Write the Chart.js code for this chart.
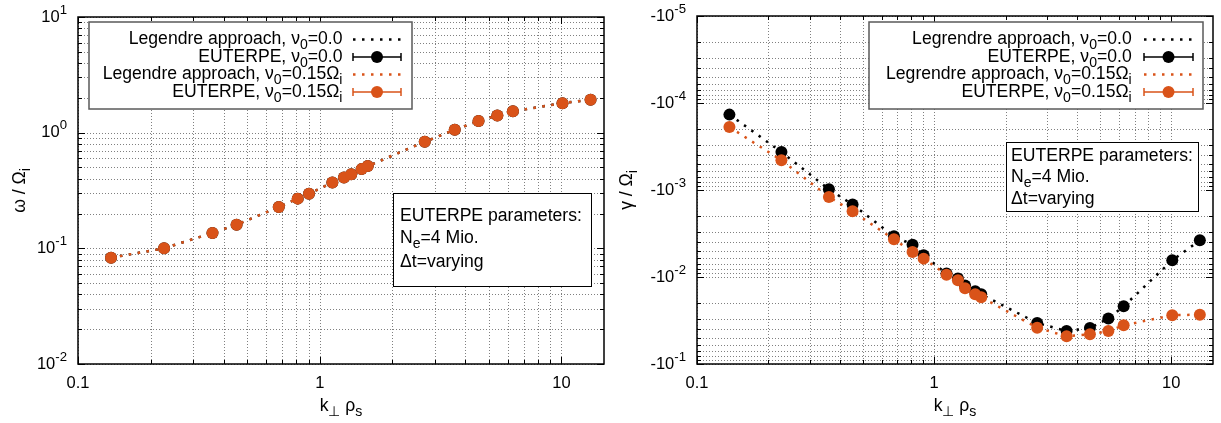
<!DOCTYPE html>
<html lang="en">
<head>
<meta charset="UTF-8">
<title>Real frequency and growth rate vs k_perp rho_s</title>
<script src="https://cdn.jsdelivr.net/npm/chart.js@4"></script>
<style>
  html, body { margin: 0; padding: 0; background: #fff; }
  #wrap { display: flex; width: 1221px; height: 423px; }
  canvas { display: block; }
</style>
</head>
<body>
<div id="wrap">
  <canvas id="omegaChart" width="610" height="423"></canvas>
  <canvas id="gammaChart" width="611" height="423"></canvas>
</div>
<script>
// k_perp * rho_s of the EUTERPE runs (same for both panels)
const kPerp = [0.137, 0.227, 0.360, 0.453, 0.677, 0.811, 0.903, 1.128, 1.26, 1.35,
               1.49, 1.58, 2.72, 3.62, 4.54, 5.43, 6.30, 10.1, 13.2];

// real frequency omega / Omega_i (nu0 = 0 and nu0 = 0.15 lie on top of each other)
const omegaNu0 = [0.083, 0.100, 0.136, 0.160, 0.228, 0.269, 0.297, 0.370, 0.409, 0.438,
                  0.484, 0.514, 0.834, 1.06, 1.26, 1.41, 1.53, 1.80, 1.93];
const omegaNu015 = [0.083, 0.100, 0.136, 0.160, 0.228, 0.269, 0.297, 0.370, 0.409, 0.438,
                    0.484, 0.514, 0.834, 1.06, 1.26, 1.41, 1.53, 1.80, 1.93];

// damping rate gamma / Omega_i (negative)
const gammaNu0 = [-1.36e-4, -3.66e-4, -9.8e-4, -1.47e-3, -3.40e-3, -4.25e-3, -5.63e-3, -9.14e-3,
                  -1.04e-2, -1.25e-2, -1.46e-2, -1.58e-2, -3.38e-2, -4.18e-2, -3.86e-2, -3.0e-2,
                  -2.17e-2, -6.43e-3, -3.78e-3];
const gammaNu015 = [-1.89e-4, -4.56e-4, -1.20e-3, -1.76e-3, -3.69e-3, -5.16e-3, -6.15e-3, -9.4e-3,
                    -1.09e-2, -1.35e-2, -1.58e-2, -1.71e-2, -3.82e-2, -4.81e-2, -4.56e-2, -4.18e-2,
                    -3.59e-2, -2.75e-2, -2.71e-2];

// axis ticks
const xTickValues = [0.1, 1, 10];
const xTickLabels = ['0.1', '1', '10'];
const omegaTickValues = [0.01, 0.1, 1, 10];
const omegaTickLabels = ['10^{-2}', '10^{-1}', '10^{0}', '10^{1}'];
const gammaTickValues = [1e-5, 1e-4, 1e-3, 1e-2, 1e-1];
const gammaTickLabels = ['-10^{-5}', '-10^{-4}', '-10^{-3}', '-10^{-2}', '-10^{-1}'];

const legendOmega = ['Legendre approach, ν_{0}=0.0', 'EUTERPE, ν_{0}=0.0',
                     'Legendre approach, ν_{0}=0.15Ω_{i}', 'EUTERPE, ν_{0}=0.15Ω_{i}'];
const legendGamma = ['Legrendre approach, ν_{0}=0.0', 'EUTERPE, ν_{0}=0.0',
                     'Legrendre approach, ν_{0}=0.15Ω_{i}', 'EUTERPE, ν_{0}=0.15Ω_{i}'];
const paramLines = ['EUTERPE parameters:', 'N_{e}=4 Mio.', 'Δt=varying'];

const ORANGE = '#d95319';
const BLACK = '#000000';
const FONT = '"Liberation Sans", Arial, Helvetica, sans-serif';
const TEXT_SIZE = 17.6;

// split "a^{b}c_{d}" into runs of normal / superscript / subscript text
function richParts(str) {
    const out = [];
    const re = /([\^_])\{([^}]*)\}/g;
    let last = 0, m;
    while ((m = re.exec(str))) {
        if (m.index > last) out.push({ t: str.slice(last, m.index), s: null });
        out.push({ t: m[2], s: m[1] === '^' ? 'sup' : 'sub' });
        last = re.lastIndex;
    }
    if (last < str.length) out.push({ t: str.slice(last), s: null });
    return out;
}

function drawRich(ctx, str, x, y, size, align) {
    const parts = richParts(str);
    const small = size * 0.8;
    let w = 0;
    parts.forEach(p => {
        ctx.font = (p.s ? small : size) + 'px ' + FONT;
        p.w = ctx.measureText(p.t).width;
        w += p.w;
    });
    let cx = align === 'right' ? x - w : align === 'center' ? x - w / 2 : x;
    ctx.textAlign = 'left';
    ctx.textBaseline = 'middle';
    parts.forEach(p => {
        ctx.font = (p.s ? small : size) + 'px ' + FONT;
        const dy = p.s === 'sup' ? -size * 0.42 : p.s === 'sub' ? size * 0.32 : 0;
        ctx.fillText(p.t, cx, y + dy);
        cx += p.w;
    });
}

// 1..9 x 10^n between lo and hi, for grid lines and minor ticks
function logSteps(lo, hi) {
    const vals = [];
    for (let e = Math.floor(Math.log10(lo)); e <= Math.ceil(Math.log10(hi)); e++) {
        for (let m = 1; m <= 9; m++) {
            const v = +(m * Math.pow(10, e)).toPrecision(3);
            if (v >= lo * 0.999 && v <= hi * 1.001) vals.push({ v, major: m === 1 });
        }
    }
    return vals;
}

function line(ctx, x0, y0, x1, y1) {
    ctx.beginPath();
    ctx.moveTo(x0, y0);
    ctx.lineTo(x1, y1);
    ctx.stroke();
}

// grid, frame, tick labels, titles, key and parameter box
function makeDecor(cfg) {
    return {
        id: 'decor',
        beforeDatasetsDraw(chart) {
            const { ctx, chartArea: a, scales: { x, y } } = chart;
            ctx.save();
            ctx.strokeStyle = '#808080';
            ctx.lineWidth = 1;
            ctx.setLineDash([1, 2]);
            logSteps(x.min, x.max).forEach(t => {
                const px = Math.round(x.getPixelForValue(t.v)) + 0.5;
                line(ctx, px, a.top, px, a.bottom);
            });
            logSteps(y.min, y.max).forEach(t => {
                const py = Math.round(y.getPixelForValue(t.v)) + 0.5;
                line(ctx, a.left, py, a.right, py);
            });
            ctx.restore();
        },
        afterDatasetsDraw(chart) {
            const { ctx, chartArea: a, scales: { x, y } } = chart;
            ctx.save();
            ctx.setLineDash([]);
            ctx.strokeStyle = '#000';
            ctx.lineWidth = 1;
            // inward ticks on all four sides
            logSteps(x.min, x.max).forEach(t => {
                const px = Math.round(x.getPixelForValue(t.v)) + 0.5;
                const len = t.major ? 7 : 4;
                line(ctx, px, a.bottom, px, a.bottom - len);
                line(ctx, px, a.top, px, a.top + len);
            });
            logSteps(y.min, y.max).forEach(t => {
                const py = Math.round(y.getPixelForValue(t.v)) + 0.5;
                const len = t.major ? 7 : 4;
                line(ctx, a.left, py, a.left + len, py);
                line(ctx, a.right, py, a.right - len, py);
            });
            ctx.lineWidth = 1.5;
            ctx.strokeRect(a.left, a.top, a.right - a.left, a.bottom - a.top);

            // tick labels
            ctx.fillStyle = '#000';
            xTickValues.forEach((v, i) => {
                drawRich(ctx, xTickLabels[i], x.getPixelForValue(v), a.bottom + 19, 16.5, 'center');
            });
            cfg.yTickValues.forEach((v, i) => {
                drawRich(ctx, cfg.yTickLabels[i], a.left - 11, y.getPixelForValue(v), 16.5, 'right');
            });

            // axis titles
            drawRich(ctx, 'k_{⊥} ρ_{s}', (a.left + a.right) / 2, a.bottom + 42, TEXT_SIZE, 'center');
            ctx.save();
            ctx.translate(cfg.yTitleX, (a.top + a.bottom) / 2);
            ctx.rotate(-Math.PI / 2);
            drawRich(ctx, cfg.yTitle, 0, 0, TEXT_SIZE, 'center');
            ctx.restore();

            // key
            const L = cfg.key;
            ctx.fillStyle = '#fff';
            ctx.fillRect(L.x0, L.y0, L.x1 - L.x0, L.y1 - L.y0);
            ctx.strokeStyle = '#5a5a5a';
            ctx.lineWidth = 1.5;
            ctx.strokeRect(L.x0, L.y0, L.x1 - L.x0, L.y1 - L.y0);
            cfg.keyText.forEach((txt, i) => {
                const yy = L.y0 + L.row * (i + 1);
                const col = i < 2 ? BLACK : ORANGE;
                ctx.fillStyle = '#000';
                drawRich(ctx, txt, L.textRight, yy, TEXT_SIZE, 'right');
                ctx.strokeStyle = col;
                ctx.fillStyle = col;
                if (i % 2 === 0) {
                    ctx.lineWidth = 2.5;
                    ctx.setLineDash([2.5, 6.5]);
                    line(ctx, L.s0, yy, L.s1, yy);
                    ctx.setLineDash([]);
                } else {
                    ctx.lineWidth = 1.5;
                    line(ctx, L.s0, yy, L.s1, yy);
                    line(ctx, L.s0, yy - 4, L.s0, yy + 4);
                    line(ctx, L.s1, yy - 4, L.s1, yy + 4);
                    ctx.beginPath();
                    ctx.arc((L.s0 + L.s1) / 2, yy, 6, 0, Math.PI * 2);
                    ctx.fill();
                }
            });

            // parameter box
            const B = cfg.params;
            ctx.fillStyle = '#fff';
            ctx.fillRect(B.x0, B.y0, B.x1 - B.x0, B.y1 - B.y0);
            ctx.strokeStyle = '#000';
            ctx.lineWidth = 1;
            ctx.strokeRect(B.x0 + 0.5, B.y0 + 0.5, B.x1 - B.x0, B.y1 - B.y0);
            ctx.fillStyle = '#000';
            paramLines.forEach((txt, i) => drawRich(ctx, txt, B.tx, B.lines[i], TEXT_SIZE, 'left'));
            ctx.restore();
        }
    };
}

function pts(ys, f) {
    return kPerp.map((k, i) => ({ x: k, y: f ? f(ys[i]) : ys[i] }));
}

function datasets(black, orange) {
    return [
        { data: orange, showLine: false, pointRadius: 6, pointBackgroundColor: ORANGE, pointBorderWidth: 0, order: 0 },
        { data: orange, showLine: true, pointRadius: 0, borderColor: ORANGE, borderWidth: 2.5, borderDash: [2.5, 6.5], order: 1 },
        { data: black, showLine: false, pointRadius: 6, pointBackgroundColor: BLACK, pointBorderWidth: 0, order: 2 },
        { data: black, showLine: true, pointRadius: 0, borderColor: BLACK, borderWidth: 2.5, borderDash: [2.5, 6.5], order: 3 }
    ];
}

function makeChart(id, W, area, yScale, black, orange, cfg) {
    return new Chart(document.getElementById(id), {
        type: 'scatter',
        data: { datasets: datasets(black, orange) },
        options: {
            responsive: false,
            animation: false,
            events: [],
            layout: { padding: { top: area.top, right: W - area.right, left: 0, bottom: 0 } },
            plugins: { legend: { display: false }, tooltip: { enabled: false } },
            scales: {
                x: {
                    type: 'logarithmic', min: 0.1, max: 15,
                    grid: { display: false }, border: { display: false },
                    ticks: { display: false },
                    afterFit: s => { s.height = 423 - area.bottom; }
                },
                y: Object.assign({
                    type: 'logarithmic',
                    grid: { display: false }, border: { display: false },
                    ticks: { display: false },
                    afterFit: s => { s.width = area.left; }
                }, yScale)
            }
        },
        plugins: [makeDecor(cfg)]
    });
}

makeChart('omegaChart', 610, { left: 78, right: 606, top: 17, bottom: 364 },
    { min: 0.01, max: 10 },
    pts(omegaNu0), pts(omegaNu015),
    {
        yTickValues: omegaTickValues, yTickLabels: omegaTickLabels,
        yTitle: 'ω / Ω_{i}', yTitleX: 20,
        keyText: legendOmega,
        key: { x0: 89, x1: 412, y0: 22, y1: 109, row: 17.5, textRight: 342.5, s0: 353, s1: 401 },
        params: { x0: 393, x1: 591, y0: 193, y1: 286, tx: 400, lines: [216, 238.5, 262] }
    });

// gamma is negative: plot its magnitude on a reversed log axis labelled -10^n
makeChart('gammaChart', 611, { left: 87, right: 603, top: 16, bottom: 364 },
    { min: 1e-5, max: 1e-1, reverse: true },
    pts(gammaNu0, g => -g), pts(gammaNu015, g => -g),
    {
        yTickValues: gammaTickValues, yTickLabels: gammaTickLabels,
        yTitle: 'γ / Ω_{i}', yTitleX: 17,
        keyText: legendGamma,
        key: { x0: 259, x1: 593, y0: 22, y1: 109, row: 17.5, textRight: 521.7, s0: 534, s1: 583 },
        params: { x0: 396, x1: 588, y0: 142, y1: 211, tx: 401, lines: [156, 177, 199] }
    });
</script>
</body>
</html>
